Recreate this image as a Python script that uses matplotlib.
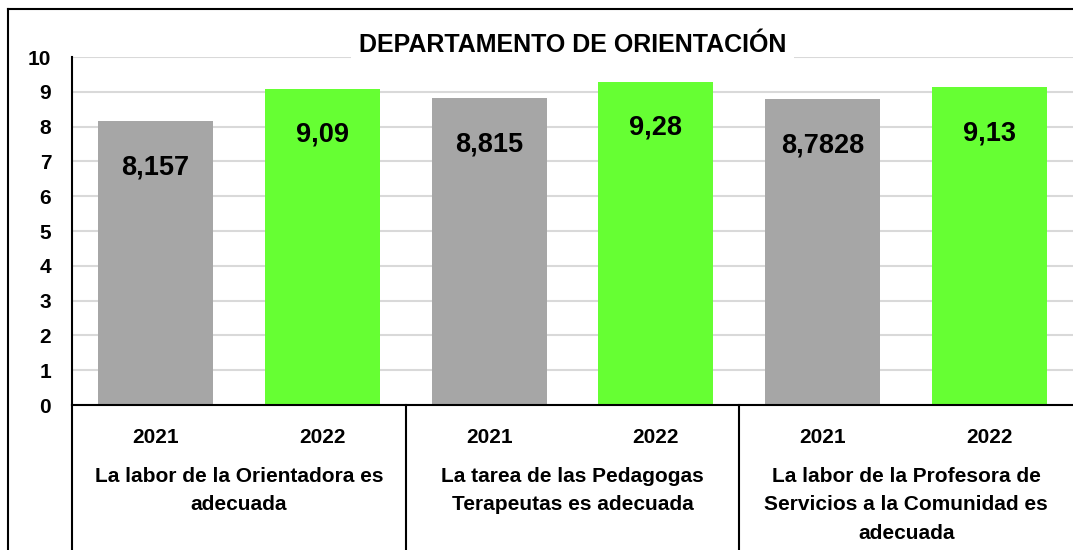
import matplotlib
matplotlib.use("Agg")
import matplotlib.pyplot as plt
from matplotlib.lines import Line2D

years = ["2021", "2022"]
categories = [
    "La labor de la Orientadora es\nadecuada",
    "La tarea de las Pedagogas\nTerapeutas es adecuada",
    "La labor de la Profesora de\nServicios a la Comunidad es\nadecuada",
]
values = [8.157, 9.09, 8.815, 9.28, 8.7828, 9.13]
labels = ["8,157", "9,09", "8,815", "9,28", "8,7828", "9,13"]
colors = ["#A6A6A6", "#66FF33"]

plt.rcParams['font.family'] = ['Liberation Sans', 'DejaVu Sans']

fig = plt.figure(figsize=(10.73, 5.5), dpi=100)
ax = fig.add_axes([0.0671, 0.2636, 0.9329, 0.6327])

pos = list(range(len(values)))
bar_colors = [colors[i % 2] for i in pos]
bars = ax.bar(pos, values, width=0.69, color=bar_colors, zorder=2)

for b, lab in zip(bars, labels):
    ax.annotate(lab, (b.get_x() + b.get_width() / 2, b.get_height()),
                xytext=(0, -33), textcoords="offset points",
                ha="center", va="center", fontsize=19.5, fontweight="bold", zorder=3)

ax.set_xlim(-0.5, len(values) - 0.5)
ax.set_ylim(0, 10)
ax.set_yticks(range(0, 11))
ax.set_yticklabels([str(v) for v in range(0, 11)], fontsize=15, fontweight="bold")
ax.tick_params(axis="y", length=0, pad=15)
ax.set_xticks([])
ax.grid(axis="y", color="#D9D9D9", linewidth=1.5, zorder=0)
ax.set_axisbelow(True)
for s in ["top", "right"]:
    ax.spines[s].set_visible(False)
ax.spines["left"].set_linewidth(1.5)
ax.spines["bottom"].set_linewidth(1.5)

# multi-level category axis
trans = ax.get_xaxis_transform()
for i in pos:
    ax.text(i, -0.092, years[i % 2], transform=trans, ha="center", va="center",
            fontsize=15, fontweight="bold")
for g, cat in enumerate(categories):
    ax.text(2 * g + 0.5, -0.178, cat, transform=trans, ha="center", va="top",
            fontsize=15, fontweight="bold", linespacing=1.62)
for g in range(len(categories) + 1):
    x = 2 * g - 0.5
    if x >= len(values) - 0.5:
        continue
    ax.plot([x, x], [0, -0.43], transform=trans, color="black", linewidth=1.5,
            clip_on=False)

ax.text(2.5, 1.035, "DEPARTAMENTO DE ORIENTACIÓN", transform=trans, ha="center",
        va="center", fontsize=18, fontweight="bold", zorder=5,
        bbox=dict(facecolor="white", edgecolor="none", pad=6))

# outer chart border
fig.add_artist(Line2D([0.0075, 0.0075], [0, 0.984], color="black", linewidth=1.5))
fig.add_artist(Line2D([0.0075, 1.0], [0.984, 0.984], color="black", linewidth=1.5))

fig.savefig("out.png", dpi=100)
